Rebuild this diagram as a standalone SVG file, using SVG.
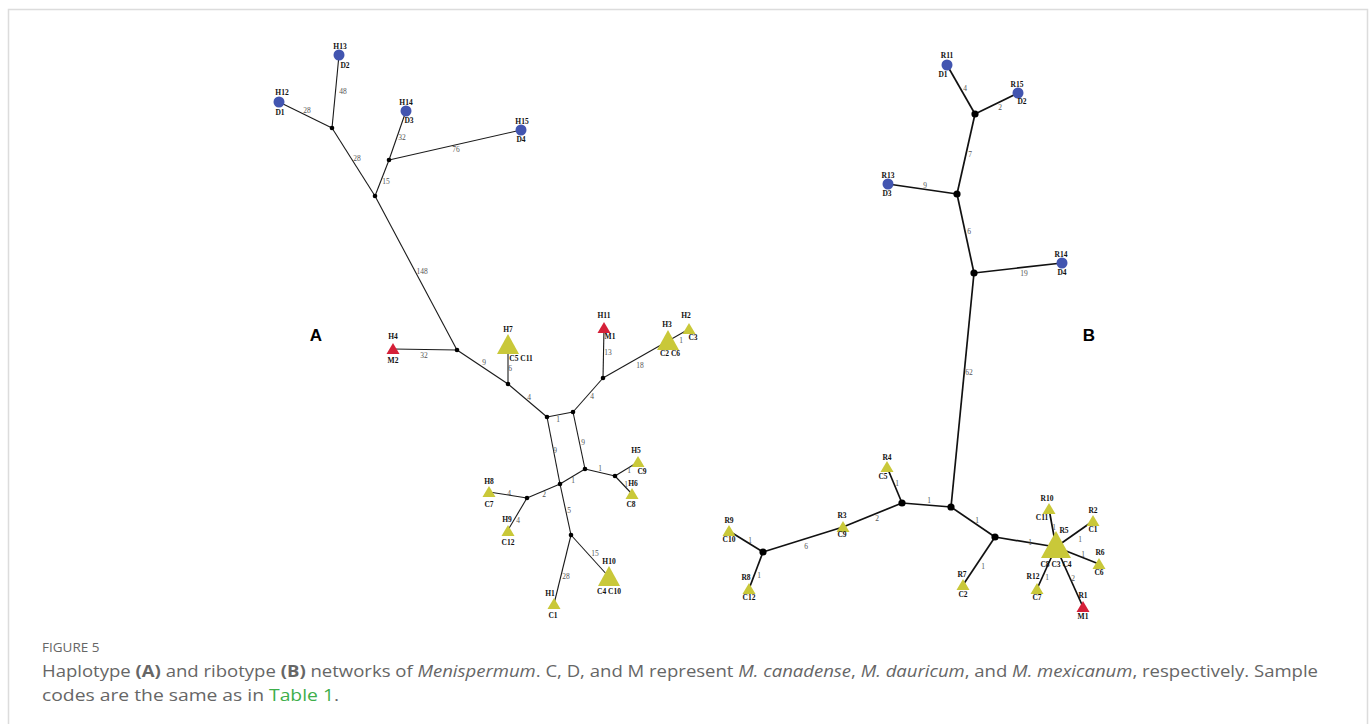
<svg xmlns="http://www.w3.org/2000/svg" width="1372" height="724" viewBox="0 0 1372 724">
<style>
.ea line{stroke:#1a1a1a;stroke-width:1.1}
.eb line{stroke:#111;stroke-width:1.7}
.ja{fill:#000}
.nl{font-family:"Liberation Serif",serif;font-weight:bold;font-size:7.5px;fill:#111;text-anchor:middle}
.el{font-family:"Liberation Serif",serif;font-size:7.5px;fill:#555;text-anchor:middle}
.blue{fill:#4255b0}
.yel{fill:#c9c839}
.red{fill:#d52038}
.pl{font-family:"Liberation Sans",Arial,sans-serif;font-weight:bold;font-size:17px;fill:#000;text-anchor:middle}
.cap{font-family:"Open Sans","Liberation Sans",sans-serif;fill:#666}
</style>
<defs>
<polygon id="ts" points="0,-6 -6.5,5 6.5,5"/>
<polygon id="tb" points="0,-11 -11,9 11,9"/>
<polygon id="tx" points="0,-15 -15,12 15,12"/>
</defs>
<rect x="0" y="0" width="1372" height="724" fill="#fff"/>
<path d="M8.5,730 V9.5 H1367.5 V730" fill="none" stroke="#dcdcdc" stroke-width="1.5"/>

<g id="connectors-A" class="ea">
<line x1="279" y1="102" x2="332" y2="128"/>
<line x1="339" y1="55" x2="332" y2="128"/>
<line x1="332" y1="128" x2="375" y2="196"/>
<line x1="375" y1="196" x2="389" y2="160"/>
<line x1="389" y1="160" x2="406" y2="111"/>
<line x1="389" y1="160" x2="521" y2="130"/>
<line x1="375" y1="196" x2="457" y2="350"/>
<line x1="457" y1="350" x2="393" y2="349"/>
<line x1="457" y1="350" x2="508" y2="384"/>
<line x1="508" y1="384" x2="508" y2="345"/>
<line x1="508" y1="384" x2="547" y2="417"/>
<line x1="547" y1="417" x2="573" y2="412"/>
<line x1="573" y1="412" x2="603" y2="378"/>
<line x1="603" y1="378" x2="604" y2="328"/>
<line x1="603" y1="378" x2="668" y2="341"/>
<line x1="668" y1="341" x2="689" y2="329"/>
<line x1="547" y1="417" x2="560" y2="484"/>
<line x1="573" y1="412" x2="585" y2="469"/>
<line x1="560" y1="484" x2="585" y2="469"/>
<line x1="585" y1="469" x2="615" y2="476"/>
<line x1="615" y1="476" x2="638" y2="462"/>
<line x1="615" y1="476" x2="632" y2="494"/>
<line x1="560" y1="484" x2="527" y2="498"/>
<line x1="527" y1="498" x2="489" y2="492"/>
<line x1="527" y1="498" x2="508" y2="530"/>
<line x1="560" y1="484" x2="571" y2="535"/>
<line x1="571" y1="535" x2="609" y2="577"/>
<line x1="571" y1="535" x2="554" y2="604"/>
</g>
<g id="edge-labels-A">
<text class="el" x="307" y="113">28</text>
<text class="el" x="343" y="94">48</text>
<text class="el" x="357" y="161">28</text>
<text class="el" x="386" y="184">15</text>
<text class="el" x="402" y="140">32</text>
<text class="el" x="456" y="152">76</text>
<text class="el" x="422" y="274">148</text>
<text class="el" x="424" y="358">32</text>
<text class="el" x="484" y="365">9</text>
<text class="el" x="510" y="371">6</text>
<text class="el" x="529" y="400">4</text>
<text class="el" x="558" y="422">1</text>
<text class="el" x="592" y="399">4</text>
<text class="el" x="608" y="355">13</text>
<text class="el" x="640" y="368">18</text>
<text class="el" x="681" y="343">1</text>
<text class="el" x="555" y="453">9</text>
<text class="el" x="583" y="445">9</text>
<text class="el" x="573" y="483">1</text>
<text class="el" x="600" y="471">1</text>
<text class="el" x="629" y="473">1</text>
<text class="el" x="626" y="487">1</text>
<text class="el" x="544" y="497">2</text>
<text class="el" x="509" y="496">4</text>
<text class="el" x="518" y="523">4</text>
<text class="el" x="569" y="513">5</text>
<text class="el" x="595" y="556">15</text>
<text class="el" x="566" y="579">28</text>
</g>

<g id="junctions-A" class="ja">
<circle cx="332" cy="128" r="2.3"/>
<circle cx="389" cy="160" r="2.3"/>
<circle cx="375" cy="196" r="2.3"/>
<circle cx="457" cy="350" r="2.3"/>
<circle cx="508" cy="384" r="2.3"/>
<circle cx="547" cy="417" r="2.3"/>
<circle cx="573" cy="412" r="2.3"/>
<circle cx="603" cy="378" r="2.3"/>
<circle cx="560" cy="484" r="2.3"/>
<circle cx="585" cy="469" r="2.3"/>
<circle cx="615" cy="476" r="2.3"/>
<circle cx="527" cy="498" r="2.3"/>
<circle cx="571" cy="535" r="2.3"/>
</g>

<g id="H12"><circle class="blue" cx="279" cy="102" r="5.5"/><text class="nl" x="282" y="95">H12</text><text class="nl" x="280" y="115">D1</text></g>
<g id="H13"><circle class="blue" cx="339" cy="55" r="5.5"/><text class="nl" x="340" y="49">H13</text><text class="nl" x="345" y="68">D2</text></g>
<g id="H14"><circle class="blue" cx="406" cy="111" r="5.5"/><text class="nl" x="406" y="105">H14</text><text class="nl" x="409" y="123">D3</text></g>
<g id="H15"><circle class="blue" cx="521" cy="130" r="5.5"/><text class="nl" x="522" y="124">H15</text><text class="nl" x="521" y="142">D4</text></g>
<g id="H4"><use href="#ts" class="red" x="393" y="349"/><text class="nl" x="393" y="339">H4</text><text class="nl" x="393" y="363">M2</text></g>
<g id="H7"><use href="#tb" class="yel" x="508" y="345"/><text class="nl" x="508" y="332">H7</text><text class="nl" x="521" y="361">C5 C11</text></g>
<g id="H11"><use href="#ts" class="red" x="604" y="328"/><text class="nl" x="604" y="318">H11</text><text class="nl" x="610" y="339">M1</text></g>
<g id="H3"><use href="#tb" class="yel" x="668" y="341"/><text class="nl" x="667" y="327">H3</text><text class="nl" x="670" y="356">C2 C6</text></g>
<g id="H2"><use href="#ts" class="yel" x="689" y="329"/><text class="nl" x="686" y="318">H2</text><text class="nl" x="693" y="340">C3</text></g>
<g id="H5"><use href="#ts" class="yel" x="638" y="462"/><text class="nl" x="636" y="453">H5</text><text class="nl" x="642" y="474">C9</text></g>
<g id="H6"><use href="#ts" class="yel" x="632" y="494"/><text class="nl" x="633" y="486">H6</text><text class="nl" x="631" y="507">C8</text></g>
<g id="H8"><use href="#ts" class="yel" x="489" y="492"/><text class="nl" x="489" y="484">H8</text><text class="nl" x="489" y="507">C7</text></g>
<g id="H9"><use href="#ts" class="yel" x="508" y="531"/><text class="nl" x="507" y="522">H9</text><text class="nl" x="508" y="545">C12</text></g>
<g id="H10"><use href="#tb" class="yel" x="609" y="577"/><text class="nl" x="609" y="564">H10</text><text class="nl" x="609" y="594">C4 C10</text></g>
<g id="H1"><use href="#ts" class="yel" x="554" y="604"/><text class="nl" x="550" y="596">H1</text><text class="nl" x="553" y="618">C1</text></g>
<text id="label-A" class="pl" x="316" y="341">A</text>

<g id="connectors-B" class="eb">
<line x1="947" y1="65" x2="975" y2="114"/>
<line x1="1018" y1="93" x2="975" y2="114"/>
<line x1="975" y1="114" x2="957" y2="194"/>
<line x1="957" y1="194" x2="888" y2="184"/>
<line x1="957" y1="194" x2="974" y2="273"/>
<line x1="974" y1="273" x2="1062" y2="263"/>
<line x1="974" y1="273" x2="951" y2="507"/>
<line x1="951" y1="507" x2="902" y2="503"/>
<line x1="902" y1="503" x2="887" y2="467"/>
<line x1="902" y1="503" x2="843" y2="527"/>
<line x1="843" y1="527" x2="763" y2="552"/>
<line x1="763" y1="552" x2="729" y2="531"/>
<line x1="763" y1="552" x2="749" y2="589"/>
<line x1="951" y1="507" x2="995" y2="537"/>
<line x1="995" y1="537" x2="963" y2="585"/>
<line x1="995" y1="537" x2="1056" y2="547"/>
<line x1="1056" y1="547" x2="1049" y2="509"/>
<line x1="1056" y1="547" x2="1093" y2="521"/>
<line x1="1056" y1="547" x2="1099" y2="564"/>
<line x1="1056" y1="547" x2="1037" y2="589"/>
<line x1="1056" y1="547" x2="1083" y2="607"/>
</g>
<g id="edge-labels-B">
<text class="el" x="965" y="91">4</text>
<text class="el" x="1000" y="110">2</text>
<text class="el" x="970" y="157">7</text>
<text class="el" x="925" y="188">9</text>
<text class="el" x="969" y="234">6</text>
<text class="el" x="1024" y="276">19</text>
<text class="el" x="969" y="375">62</text>
<text class="el" x="929" y="503">1</text>
<text class="el" x="897" y="486">1</text>
<text class="el" x="877" y="521">2</text>
<text class="el" x="806" y="549">6</text>
<text class="el" x="750" y="543">1</text>
<text class="el" x="759" y="578">1</text>
<text class="el" x="977" y="523">1</text>
<text class="el" x="983" y="569">1</text>
<text class="el" x="1030" y="545">1</text>
<text class="el" x="1054" y="530">1</text>
<text class="el" x="1080" y="542">1</text>
<text class="el" x="1083" y="557">1</text>
<text class="el" x="1047" y="580">1</text>
<text class="el" x="1073" y="581">2</text>
</g>

<g id="junctions-B" class="ja">
<circle cx="975" cy="114" r="3.6"/>
<circle cx="957" cy="194" r="3.6"/>
<circle cx="974" cy="273" r="3.6"/>
<circle cx="951" cy="507" r="3.6"/>
<circle cx="902" cy="503" r="3.6"/>
<circle cx="763" cy="552" r="3.6"/>
<circle cx="995" cy="537" r="3.6"/>
</g>

<g id="R11"><circle class="blue" cx="947" cy="65" r="5.5"/><text class="nl" x="947" y="58">R11</text><text class="nl" x="943" y="77">D1</text></g>
<g id="R15"><circle class="blue" cx="1018" cy="93" r="5.5"/><text class="nl" x="1017" y="87">R15</text><text class="nl" x="1022" y="104">D2</text></g>
<g id="R13"><circle class="blue" cx="888" cy="184" r="5.5"/><text class="nl" x="888" y="178">R13</text><text class="nl" x="887" y="196">D3</text></g>
<g id="R14"><circle class="blue" cx="1062" cy="263" r="5.5"/><text class="nl" x="1061" y="257">R14</text><text class="nl" x="1062" y="275">D4</text></g>
<g id="R4"><use href="#ts" class="yel" x="887" y="467"/><text class="nl" x="887" y="460">R4</text><text class="nl" x="883" y="479">C5</text></g>
<g id="R3"><use href="#ts" class="yel" x="843" y="527"/><text class="nl" x="842" y="518">R3</text><text class="nl" x="842" y="537">C9</text></g>
<g id="R9"><use href="#ts" class="yel" x="729" y="531"/><text class="nl" x="729" y="523">R9</text><text class="nl" x="729" y="542">C10</text></g>
<g id="R8"><use href="#ts" class="yel" x="749" y="589"/><text class="nl" x="746" y="580">R8</text><text class="nl" x="749" y="600">C12</text></g>
<g id="R7"><use href="#ts" class="yel" x="963" y="585"/><text class="nl" x="962" y="577">R7</text><text class="nl" x="963" y="597">C2</text></g>
<g id="R5"><use href="#tx" class="yel" x="1056" y="546"/><text class="nl" x="1064" y="533">R5</text><text class="nl" x="1056" y="567">C8 C3 C4</text></g>
<g id="R10"><use href="#ts" class="yel" x="1049" y="509"/><text class="nl" x="1047" y="501">R10</text><text class="nl" x="1042" y="520">C11</text></g>
<g id="R2"><use href="#ts" class="yel" x="1093" y="521"/><text class="nl" x="1093" y="513">R2</text><text class="nl" x="1093" y="532">C1</text></g>
<g id="R6"><use href="#ts" class="yel" x="1099" y="564"/><text class="nl" x="1100" y="555">R6</text><text class="nl" x="1099" y="575">C6</text></g>
<g id="R12"><use href="#ts" class="yel" x="1037" y="589"/><text class="nl" x="1033" y="579">R12</text><text class="nl" x="1037" y="600">C7</text></g>
<g id="R1"><use href="#ts" class="red" x="1083" y="607"/><text class="nl" x="1083" y="598">R1</text><text class="nl" x="1083" y="619">M1</text></g>
<text id="label-B" class="pl" x="1089" y="341">B</text>

<g id="caption">
<text class="cap" x="42" y="652" font-size="13.5" fill="#5a5a5a">FIGURE 5</text>
<text class="cap" x="42" y="677" font-size="16" textLength="1276" lengthAdjust="spacingAndGlyphs">Haplotype <tspan font-weight="bold">(A)</tspan> and ribotype <tspan font-weight="bold">(B)</tspan> networks of <tspan font-style="italic">Menispermum</tspan>. C, D, and M represent <tspan font-style="italic">M. canadense</tspan>, <tspan font-style="italic">M. dauricum</tspan>, and <tspan font-style="italic">M. mexicanum</tspan>, respectively. Sample</text>
<text class="cap" x="42" y="701" font-size="16" textLength="297" lengthAdjust="spacingAndGlyphs">codes are the same as in <tspan fill="#3dae4a">Table 1</tspan>.</text>
</g>
</svg>
